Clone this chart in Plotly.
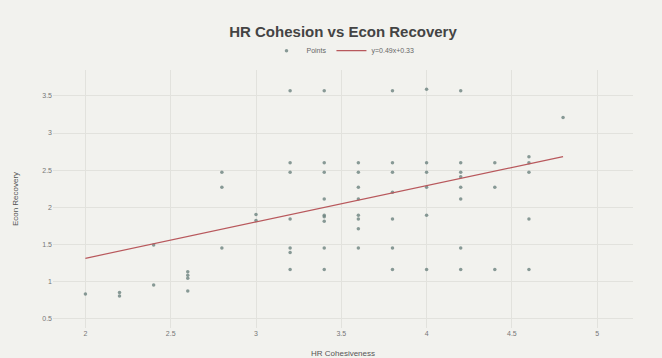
import plotly.graph_objects as go

# HR cohesiveness score (x) and economic recovery score (y) per observation
hr_cohesion = [
    2.0,
    2.2, 2.2,
    2.4, 2.4,
    2.6, 2.6, 2.6, 2.6,
    2.8, 2.8, 2.8,
    3.0, 3.0,
    3.2, 3.2, 3.2, 3.2, 3.2, 3.2, 3.2,
    3.4, 3.4, 3.4, 3.4, 3.4, 3.4, 3.4, 3.4, 3.4,
    3.6, 3.6, 3.6, 3.6, 3.6, 3.6, 3.6, 3.6,
    3.8, 3.8, 3.8, 3.8, 3.8, 3.8, 3.8,
    4.0, 4.0, 4.0, 4.0, 4.0, 4.0,
    4.2, 4.2, 4.2, 4.2, 4.2, 4.2, 4.2, 4.2,
    4.4, 4.4, 4.4,
    4.6, 4.6, 4.6, 4.6, 4.6,
    4.8,
]
econ_recovery = [
    0.83,
    0.85, 0.80,
    0.95, 1.49,
    1.13, 1.08, 1.04, 0.87,
    2.47, 2.27, 1.45,
    1.90, 1.82,
    3.57, 2.60, 2.47, 1.84, 1.45, 1.39, 1.16,
    3.57, 2.60, 2.47, 2.11, 1.89, 1.87, 1.81, 1.45, 1.16,
    2.60, 2.47, 2.27, 2.11, 1.89, 1.84, 1.71, 1.45,
    3.57, 2.60, 2.47, 2.20, 1.84, 1.45, 1.16,
    3.59, 2.60, 2.47, 2.27, 1.89, 1.16,
    3.57, 2.60, 2.47, 2.41, 2.27, 2.11, 1.45, 1.16,
    2.60, 2.27, 1.16,
    2.68, 2.60, 2.47, 1.84, 1.16,
    3.21,
]

# Least-squares trend line shown in the legend
slope = 0.49
intercept = 0.33
fit_x = [2.0, 4.8]
fit_y = [slope * v + intercept for v in fit_x]

x_ticks = [2, 2.5, 3, 3.5, 4, 4.5, 5]
y_ticks = [0.5, 1, 1.5, 2, 2.5, 3, 3.5]

fig = go.Figure()
fig.add_trace(go.Scatter(
    x=hr_cohesion, y=econ_recovery, mode="markers", name="Points",
    marker=dict(size=3.5, color="#6c827e", opacity=0.8),
))
fig.add_trace(go.Scatter(
    x=fit_x, y=fit_y, mode="lines",
    name=f"y={slope:.2f}x+{intercept:.2f}",
    line=dict(color="#b8585c", width=1.2),
))

bg = "#f2f2ee"
grid = "#e2e2dd"
fig.update_layout(
    width=662, height=358,
    paper_bgcolor=bg, plot_bgcolor=bg,
    margin=dict(l=53, r=29, t=70, b=30),
    font=dict(family="Liberation Sans, Arial, sans-serif", color="#666666", size=8),
    title=dict(text="<b>HR Cohesion vs Econ Recovery</b>", x=0.5, xanchor="center",
               xref="paper", y=0.91, yanchor="middle",
               font=dict(size=15, color="#444444")),
    legend=dict(orientation="h", x=0.5, xanchor="center", y=1.075, yanchor="middle",
                font=dict(size=7, color="#666666"), bgcolor="rgba(0,0,0,0)"),
    showlegend=True,
)
fig.update_xaxes(
    title=dict(text="HR Cohesiveness", font=dict(size=8, color="#555555"), standoff=14),
    automargin=False,
    range=[1.81, 5.21], tickvals=x_ticks, ticktext=[f"{t:g}" for t in x_ticks],
    showgrid=True, gridcolor=grid, zeroline=False, showline=False,
    tickfont=dict(size=7, color="#777777"),
)
fig.update_yaxes(
    title=dict(text="Econ Recovery", font=dict(size=8, color="#555555"), standoff=22),
    automargin=False,
    range=[0.37, 3.85], tickvals=y_ticks, ticktext=[f"{t:g}" for t in y_ticks],
    showgrid=True, gridcolor=grid, zeroline=False, showline=False,
    tickfont=dict(size=7, color="#777777"),
)

fig.write_html("out.html")
